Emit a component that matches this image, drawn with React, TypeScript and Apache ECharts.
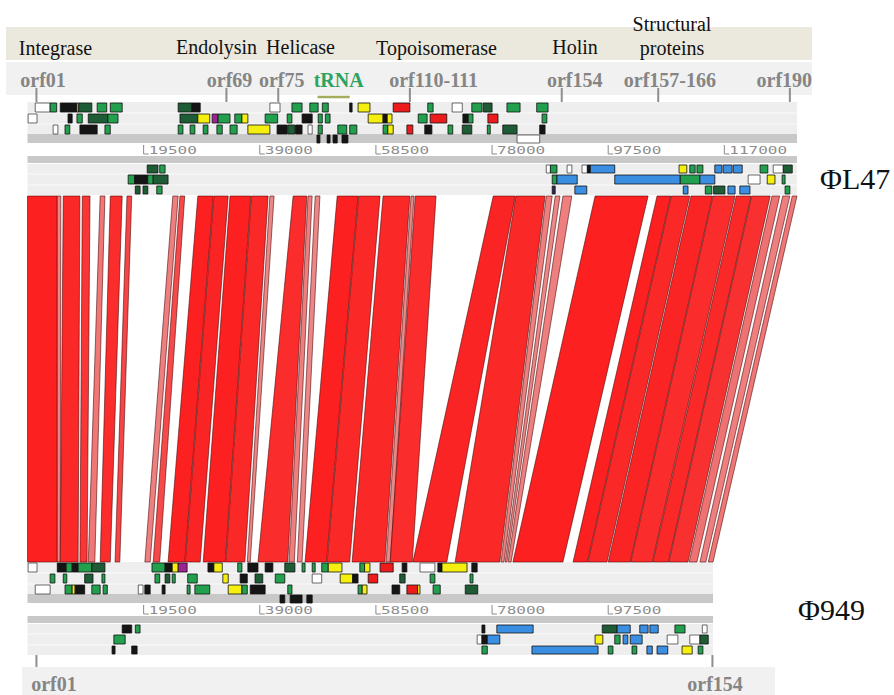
import React, { useEffect, useRef } from 'react';
import * as echarts from 'echarts';

// ---------------- data ----------------
const topGenomeLength = 129200; // ΦL47
const bottomGenomeLength = 115100; // Φ949
const genomeNames = ['ΦL47', 'Φ949'];
const scaleTicks = [19500, 39000, 58500, 78000, 97500, 117000];

const functionLabels = ['Integrase', 'Endolysin', 'Helicase', 'Topoisomerase', 'Holin', 'Structural', 'proteins'];

const topOrfs: [string, number][] = [
  ['orf01', 1500], ['orf69', 33400], ['orf75', 42100], ['orf110-111', 64200],
  ['orf154', 89700], ['orf157-166', 105900], ['orf190', 128000],
];
const bottomOrfs: [string, number][] = [['orf01', 1500], ['orf154', 115000]];
const tRNARegion: [string, number, number] = ['tRNA', 48700, 54100];

// matches: [top start, top end, bottom start, bottom end, identity %]
const matches: number[][] = [
  [0, 5000, 0, 5000, 95],
  [5000, 5600, 5000, 5500, 70],
  [6000, 8800, 5500, 8500, 93],
  [9200, 10500, 8800, 10000, 90],
  [12200, 13000, 10200, 11300, 74],
  [13900, 15900, 12200, 13900, 92],
  [16700, 17500, 14700, 15500, 86],
  [24400, 25300, 19700, 20600, 72],
  [25600, 26400, 21100, 22200, 85],
  [28600, 31200, 23600, 26400, 96],
  [31300, 33700, 26500, 29000, 94],
  [34000, 37500, 29500, 33200, 95],
  [37600, 40400, 33300, 36500, 93],
  [40700, 41400, 36900, 37400, 70],
  [44600, 46900, 38700, 43700, 92],
  [47100, 47800, 43900, 44800, 72],
  [48300, 49100, 45300, 46100, 70],
  [52000, 55500, 46600, 50200, 95],
  [55600, 59200, 50300, 54100, 93],
  [59700, 64200, 54500, 60000, 93],
  [64400, 64900, 60200, 60900, 70],
  [65100, 68600, 60900, 64600, 92],
  [78200, 81900, 64700, 70400, 94],
  [82000, 86900, 71800, 79300, 93],
  [87100, 88100, 79500, 80000, 72],
  [88600, 89400, 80200, 80500, 70],
  [89900, 91400, 80700, 81200, 72],
  [95300, 104200, 81500, 89900, 96],
  [105700, 108000, 91600, 94000, 95],
  [108100, 111200, 94100, 97300, 93],
  [111400, 115000, 97500, 101200, 94],
  [115100, 118800, 101300, 104900, 92],
  [119000, 121500, 105000, 107600, 93],
  [121600, 124700, 107700, 110900, 91],
  [125000, 126300, 111100, 112400, 75],
  [126800, 128000, 112900, 113900, 72],
  [128400, 129200, 114300, 115100, 74],
];

// genes: [start, end, row, colour]; rows 1-3 forward frames, 0 forward strand, 4-6 reverse frames
const topGenes: [number, number, number, string][] = [
  [1300, 3800, 1, 'w'], [3800, 4900, 1, 'g'], [5500, 8300, 1, 'k'], [8300, 8600, 1, 'y'], [8600, 10800, 1, 'd'],
  [11700, 13300, 1, 'g'], [13900, 15900, 1, 'g'], [25300, 27600, 1, 'd'], [27600, 29000, 1, 'k'],
  [40700, 42400, 1, 'w'], [44400, 46100, 1, 'g'], [47400, 48800, 1, 'g'], [49500, 50500, 1, 'g'],
  [54100, 54500, 1, 'k'], [55500, 57500, 1, 'y'], [61400, 64200, 1, 'r'], [67200, 68100, 1, 'g'],
  [71300, 73000, 1, 'w'], [74600, 76300, 1, 'g'], [76500, 78000, 1, 'd'], [80500, 82700, 1, 'g'], [85500, 87400, 1, 'g'],
  [100, 1600, 2, 'w'], [6800, 7500, 2, 'k'], [8300, 9200, 2, 'g'], [10200, 13500, 2, 'd'], [13500, 15200, 2, 'g'],
  [25600, 28600, 2, 'd'], [28600, 30600, 2, 'y'], [31000, 32000, 2, 'm'], [32000, 34000, 2, 'g'],
  [34800, 36000, 2, 'g'], [36000, 37000, 2, 'y'], [39900, 42000, 2, 'g'], [43600, 44400, 2, 'g'],
  [46100, 47800, 2, 'k'], [48800, 49500, 2, 'g'], [50000, 50800, 2, 'g'], [57200, 59700, 2, 'y'],
  [59700, 60400, 2, 'k'], [60400, 61200, 2, 'y'], [65600, 67100, 2, 'g'], [67600, 70400, 2, 'r'],
  [73100, 74000, 2, 'k'], [74000, 74800, 2, 'g'], [77300, 79000, 2, 'r'], [86400, 87200, 2, 'g'],
  [4300, 5100, 3, 'w'], [6300, 7100, 3, 'g'], [8800, 11700, 3, 'k'], [13000, 13900, 3, 'g'],
  [25300, 26100, 3, 'g'], [27300, 28100, 3, 'g'], [29500, 30300, 3, 'g'], [31800, 32700, 3, 'g'],
  [34000, 35200, 3, 'g'], [37000, 40700, 3, 'y'], [41900, 43600, 3, 'k'], [43700, 44900, 3, 'd'], [45000, 46100, 3, 'k'],
  [47100, 47800, 3, 'w'], [48800, 49500, 3, 'g'], [52100, 53600, 3, 'g'], [54100, 55300, 3, 'g'],
  [59700, 60500, 3, 'g'], [60500, 61400, 3, 'y'], [63700, 64700, 3, 'r'], [66700, 67900, 3, 'k'],
  [70600, 71400, 3, 'g'], [73000, 74600, 3, 'd'], [77200, 77700, 3, 'g'], [79800, 82200, 3, 'd'], [86000, 86900, 3, 'k'],
  [48600, 49100, 0, 'k'], [50300, 50800, 0, 'k'], [51300, 52000, 0, 'k'], [52800, 53800, 0, 'k'], [82200, 86000, 0, 'w'],
  [20100, 21900, 4, 'd'], [22200, 23100, 4, 'g'], [87100, 87800, 4, 'w'], [87800, 88900, 4, 'g'],
  [90600, 91400, 4, 'w'], [93100, 94000, 4, 'w'], [94000, 94500, 4, 'k'], [94500, 98600, 4, 'b'],
  [109400, 110700, 4, 'y'], [111200, 112100, 4, 'g'], [112400, 113400, 4, 'g'],
  [115400, 116600, 4, 'b'], [116800, 118300, 4, 'b'], [118500, 120000, 4, 'b'], [123000, 124300, 4, 'g'],
  [125200, 126900, 4, 'w'], [126900, 128400, 4, 'd'],
  [16900, 18000, 5, 'g'], [18000, 20200, 5, 'k'], [20200, 21100, 5, 'g'], [21100, 23600, 5, 'd'],
  [88100, 88900, 5, 'g'], [88900, 92300, 5, 'b'], [98600, 109600, 5, 'b'], [109600, 112900, 5, 'g'],
  [112900, 115400, 5, 'b'], [121000, 123000, 5, 'w'], [124200, 125500, 5, 'y'], [126700, 127200, 5, 'g'],
  [18100, 18900, 6, 'd'], [19400, 20200, 6, 'd'], [21700, 22600, 6, 'g'], [88100, 88600, 6, 'p'],
  [91900, 93900, 6, 'b'], [110100, 110900, 6, 'b'], [113800, 114900, 6, 'g'], [115200, 117100, 6, 'd'],
  [117600, 118800, 6, 'b'], [119600, 121300, 6, 'b'], [127200, 128000, 6, 'g'],
];

const bottomGenes: [number, number, number, string][] = [
  [100, 1600, 1, 'w'], [5000, 6500, 1, 'k'], [6500, 7500, 1, 'g'], [7500, 8500, 1, 'k'], [8500, 10800, 1, 'g'],
  [10800, 13000, 1, 'd'], [20900, 23100, 1, 'g'], [23100, 24300, 1, 'k'], [24300, 25300, 1, 'y'], [25300, 26800, 1, 'm'],
  [30300, 31300, 1, 'k'], [31300, 32700, 1, 'y'], [35300, 36000, 1, 'g'], [37000, 38700, 1, 'k'],
  [39900, 41200, 1, 'k'], [43200, 44900, 1, 'd'], [46100, 46600, 1, 'g'], [47800, 48300, 1, 'g'],
  [49400, 50500, 1, 'g'], [50500, 52800, 1, 'y'], [55800, 56600, 1, 'g'], [56600, 57500, 1, 'y'],
  [59200, 61400, 1, 'r'], [62900, 63700, 1, 'k'], [65900, 68400, 1, 'w'], [68900, 69600, 1, 'k'],
  [69600, 73800, 1, 'y'], [74600, 75500, 1, 'k'],
  [3800, 4600, 2, 'g'], [6000, 6600, 2, 'g'], [9600, 11000, 2, 'd'], [12500, 13000, 2, 'g'],
  [21400, 22200, 2, 'g'], [23100, 23900, 2, 'd'], [24300, 24800, 2, 'g'], [26900, 28500, 2, 'g'],
  [32800, 33700, 2, 'y'], [35700, 36900, 2, 'k'], [38200, 39500, 2, 'd'], [41600, 43200, 2, 'g'],
  [47800, 49400, 2, 'w'], [52500, 54600, 2, 'y'], [54600, 55500, 2, 'k'], [57200, 58800, 2, 'r'],
  [62500, 63400, 2, 'd'], [67600, 68400, 2, 'g'], [74300, 74800, 2, 'g'],
  [1300, 3800, 3, 'w'], [6300, 7500, 3, 'g'], [7500, 8000, 3, 'y'], [8000, 9600, 3, 'k'],
  [10800, 12200, 3, 'g'], [12700, 13400, 3, 'g'], [18600, 19400, 3, 'w'], [19700, 20600, 3, 'k'],
  [22600, 23100, 3, 'k'], [26800, 27300, 3, 'g'], [28100, 30600, 3, 'g'], [33700, 36000, 3, 'y'],
  [36000, 36900, 3, 'g'], [37400, 39900, 3, 'k'], [43700, 44400, 3, 'g'], [55500, 56200, 3, 'g'],
  [56200, 57000, 3, 'y'], [61200, 62500, 3, 'k'], [63700, 65500, 3, 'r'], [65500, 65900, 3, 'y'],
  [68100, 69300, 3, 'g'], [73500, 75600, 3, 'd'],
  [42400, 43200, 0, 'k'], [44100, 46100, 0, 'k'], [46900, 47800, 0, 'k'],
  [15900, 17500, 4, 'k'], [18100, 18900, 4, 'g'], [76300, 76800, 4, 'k'], [78800, 84900, 4, 'b'],
  [96500, 99000, 4, 'd'], [99000, 101200, 4, 'b'], [102800, 104200, 4, 'b'], [104500, 105900, 4, 'b'],
  [108700, 110400, 4, 'g'], [113300, 114100, 4, 'w'],
  [14500, 16400, 5, 'g'], [75500, 76300, 5, 'w'], [76300, 77200, 5, 'k'], [77200, 79300, 5, 'b'],
  [95300, 96600, 5, 'y'], [98600, 99500, 5, 'g'], [100000, 100800, 5, 'b'], [101200, 103200, 5, 'b'],
  [107400, 109200, 5, 'w'], [111200, 112900, 5, 'w'], [112900, 114300, 5, 'd'],
  [14200, 14700, 6, 'k'], [17500, 18400, 6, 'k'], [76300, 77200, 6, 'g'], [84700, 95800, 6, 'b'],
  [97500, 98300, 6, 'g'], [101500, 102300, 6, 'g'], [104000, 104900, 6, 'b'], [105700, 107500, 6, 'b'],
  [109900, 111600, 6, 'y'], [112600, 113400, 6, 'g'],
];

// ---------------- layout / style ----------------
const GENOME_Y = [102, 562];
const BAND_TOP = 196;
const BAND_BOTTOM = 562;
const ROW_SPAN: Record<number, [number, number]> = {
  1: [1, 10], 2: [12, 21], 3: [23, 32], 0: [33, 41], 4: [63, 71], 5: [73, 82], 6: [84, 92],
};
const GENE_COLORS: Record<string, string> = {
  g: '#22a04e', d: '#1d5c35', k: '#151515', y: '#f5ef10', r: '#ec1c1c',
  m: '#9c2390', b: '#3b8fe2', w: '#ffffff', p: '#3b2455',
};
const SERIF = '"Liberation Serif", "Times New Roman", serif';
const ORF_LABEL_DX = { top: [6.6, 3.1, 3.4, 23.7, 13, 11.7, -5.5], bottom: [17.5, 2.6] };
const FUNCTION_LABEL_POS: [number, number][] = [
  [55.5, 48], [216.5, 47], [300.5, 47], [436.5, 48], [575, 47], [672, 24], [672, 48],
];

function bandColor(id: number) {
  const t = Math.max(0, Math.min(1, (id - 70) / 25));
  const r = Math.round(236 + t * (252 - 236));
  const gb = Math.round(135 - t * (135 - 32));
  return `rgb(${r},${gb},${gb})`;
}

function geneSeries(genes: [number, number, number, string][], gi: number) {
  return {
    type: 'custom',
    data: genes.map((g) => [g[0], g[1], g[2]]),
    encode: { x: [0, 1], y: 2 },
    renderItem: (params: any, api: any) => {
      const g = genes[params.dataIndex];
      const span = ROW_SPAN[g[2]];
      const a = api.coord([g[0], GENOME_Y[gi] + span[0]]);
      const b = api.coord([g[1], GENOME_Y[gi] + span[1]]);
      return {
        type: 'rect',
        shape: { x: a[0], y: a[1], width: Math.max(b[0] - a[0], 1.6), height: b[1] - a[1] },
        style: { fill: GENE_COLORS[g[3]], stroke: g[3] === 'w' ? '#444' : '#111', lineWidth: 0.8 },
      };
    },
  };
}

function orfSeries(orfs: [string, number][], gi: number) {
  const dx = gi === 0 ? ORF_LABEL_DX.top : ORF_LABEL_DX.bottom;
  const tickY = gi === 0 ? [88, 102] : [655, 667];
  const labelY = gi === 0 ? 80 : 684;
  return {
    type: 'custom',
    data: orfs.map((o) => [o[1], 0]),
    encode: { x: 0, y: 1 },
    renderItem: (params: any, api: any) => {
      const o = orfs[params.dataIndex];
      const p = api.coord([o[1], tickY[0]]);
      const q = api.coord([o[1], tickY[1]]);
      return {
        type: 'group',
        children: [
          { type: 'line', shape: { x1: p[0], y1: p[1], x2: q[0], y2: q[1] }, style: { stroke: '#8e8e8e', lineWidth: 2 } },
          {
            type: 'text', x: p[0] + dx[params.dataIndex], y: labelY,
            style: { text: o[0], x: 0, y: 0, fill: '#858585', font: `bold 20px ${SERIF}`, align: 'center', verticalAlign: 'middle' },
          },
        ],
      };
    },
  };
}

const option: any = {
  animation: false,
  backgroundColor: '#ffffff',
  grid: { left: 27.5, top: 0, width: 769.5, height: 695 },
  xAxis: { type: 'value', min: 0, max: topGenomeLength, show: false },
  yAxis: { type: 'value', min: 0, max: 695, inverse: true, show: false },
  graphic: [
    { type: 'rect', z: 0, shape: { x: 6, y: 27, width: 806, height: 33 }, style: { fill: '#ebe9dd' } },
    { type: 'rect', z: 0, shape: { x: 6, y: 62, width: 806, height: 33 }, style: { fill: '#f1f1f1' } },
    { type: 'rect', z: 0, shape: { x: 22, y: 667, width: 753, height: 28 }, style: { fill: '#f1f1f1' } },
    ...functionLabels.map((t, i) => ({
      type: 'text', z: 10, x: FUNCTION_LABEL_POS[i][0], y: FUNCTION_LABEL_POS[i][1],
      style: { text: t, x: 0, y: 0, fill: '#111', font: `20px ${SERIF}`, align: 'center', verticalAlign: 'middle', textAlign: 'center', textVerticalAlign: 'middle' },
    })),
    {
      type: 'text', z: 10, x: 820, y: 178,
      style: { text: genomeNames[0], x: 0, y: 0, fill: '#111', font: `30px ${SERIF}`, align: 'left', verticalAlign: 'middle', textAlign: 'left', textVerticalAlign: 'middle' },
    },
    {
      type: 'text', z: 10, x: 798, y: 609,
      style: { text: genomeNames[1], x: 0, y: 0, fill: '#111', font: `30px ${SERIF}`, align: 'left', verticalAlign: 'middle', textAlign: 'left', textVerticalAlign: 'middle' },
    },
  ],
  series: [
    // track backgrounds and scales
    {
      type: 'custom',
      data: [[topGenomeLength, 0], [bottomGenomeLength, 1]],
      encode: { x: 0, y: 1 },
      renderItem: (params: any, api: any) => {
        const len = api.value(0);
        const gi = api.value(1);
        const y0 = GENOME_Y[gi];
        const x0 = api.coord([0, y0])[0];
        const x1 = api.coord([len, y0])[0];
        const w = x1 - x0;
        const children: any[] = [];
        const rect = (y: number, h: number, fill: string) =>
          children.push({ type: 'rect', shape: { x: x0, y, width: w, height: h }, style: { fill } });
        rect(y0, 32, '#eeeeee');
        rect(y0 + 32, 9, '#c8c8c8');
        rect(y0 + 54, 7, '#c8c8c8');
        rect(y0 + 62, 31, '#eeeeee');
        [11, 22, 72, 83].forEach((d) =>
          children.push({ type: 'line', shape: { x1: x0, y1: y0 + d, x2: x1, y2: y0 + d }, style: { stroke: '#fafafa', lineWidth: 1 } }));
        scaleTicks.filter((t) => t < len).forEach((t) => {
          const tx = api.coord([t, y0])[0];
          children.push({
            type: 'polyline',
            shape: { points: [[tx, y0 + 43], [tx, y0 + 52], [tx + 5, y0 + 52]] },
            style: { stroke: '#8a8a8a', lineWidth: 1, fill: 'none' },
          });
          children.push({
            type: 'text', x: tx + 5, y: y0 + 48.5, scaleX: 1.6,
            style: { text: String(t), x: 0, y: 0, fill: '#8d8d8d', font: '10px "DejaVu Sans Mono", monospace', align: 'left', verticalAlign: 'middle' },
          });
        });
        return { type: 'group', children };
      },
    },
    // homology bands
    {
      type: 'custom',
      data: matches,
      encode: { x: [0, 1, 2, 3], y: 4 },
      renderItem: (params: any, api: any) => {
        const m = matches[params.dataIndex];
        const tl = api.coord([m[0], BAND_TOP]);
        const tr = api.coord([m[1], BAND_TOP]);
        const br = api.coord([m[3], BAND_BOTTOM]);
        const bl = api.coord([m[2], BAND_BOTTOM]);
        return {
          type: 'polygon',
          shape: { points: [tl, tr, br, bl] },
          style: { fill: bandColor(m[4]), stroke: 'rgba(70,0,0,0.7)', lineWidth: 0.8 },
        };
      },
    },
    geneSeries(topGenes, 0),
    geneSeries(bottomGenes, 1),
    orfSeries(topOrfs, 0),
    orfSeries(bottomOrfs, 1),
    // tRNA marker
    {
      type: 'custom',
      data: [[tRNARegion[1], tRNARegion[2]]],
      encode: { x: [0, 1] },
      renderItem: (params: any, api: any) => {
        const a = api.coord([tRNARegion[1], 97]);
        const b = api.coord([tRNARegion[2], 97]);
        return {
          type: 'group',
          children: [
            { type: 'line', shape: { x1: a[0], y1: a[1], x2: b[0], y2: b[1] }, style: { stroke: '#a3ad5c', lineWidth: 2.5 } },
            {
              type: 'text', x: (a[0] + b[0]) / 2 + 5, y: 80,
              style: { text: tRNARegion[0], x: 0, y: 0, fill: '#2ca35e', font: `bold 20px ${SERIF}`, align: 'center', verticalAlign: 'middle' },
            },
          ],
        };
      },
    },
  ],
};

export default function App() {
  const ref = useRef<HTMLDivElement>(null);
  useEffect(() => {
    document.body.style.margin = '0';
    const chart = echarts.init(ref.current as HTMLDivElement, null, { renderer: 'svg' });
    chart.setOption(option);
    return () => chart.dispose();
  }, []);
  return <div ref={ref} style={{ width: 894, height: 695 }} />;
}
